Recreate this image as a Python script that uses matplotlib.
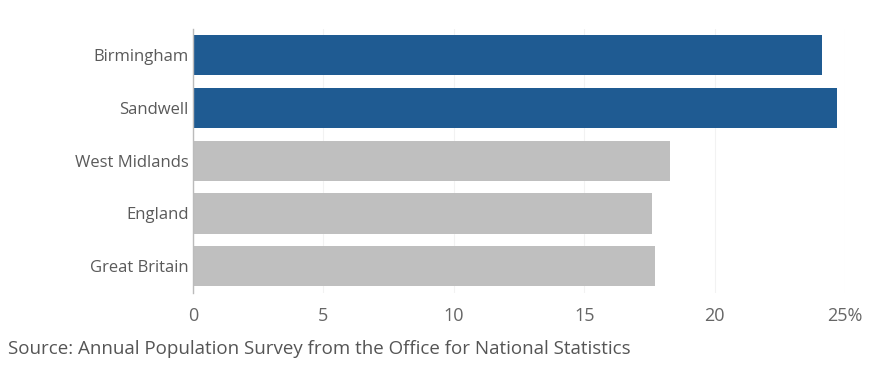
import matplotlib
matplotlib.use('agg')

import matplotlib.pyplot as plt
import numpy as np

# Values (per cent)
areas = ['Birmingham', 'Sandwell', 'West Midlands', 'England', 'Great Britain']
rates = [24.1, 24.7, 18.3, 17.6, 17.7]
highlight = [True, True, False, False, False]
xticks = [0, 5, 10, 15, 20, 25]
xtick_labels = ['0', '5', '10', '15', '20', '25%']

plt.rcParams['font.family'] = ['Open Sans', 'DejaVu Sans']

fig = plt.figure(figsize=(8.77, 3.69), dpi=100)
ax = fig.add_axes([0.22, 0.207, 0.7435, 0.715])

colors = ['#1f5b92' if h else '#bfbfbf' for h in highlight]
ypos = np.arange(len(areas))
ax.barh(ypos, rates, height=0.76, color=colors, zorder=2)

ax.set_ylim(len(areas) - 0.5, -0.5)
ax.set_xlim(0, 25)
ax.set_yticks(ypos)
ax.set_yticklabels(areas)
ax.set_xticks(xticks)
ax.set_xticklabels(xtick_labels)

ax.tick_params(axis='y', length=0, pad=3, labelsize=12, labelcolor='#5a5a5a')
ax.tick_params(axis='x', length=0, pad=10, labelsize=13, labelcolor='#666666')

for side in ['top', 'right', 'bottom']:
    ax.spines[side].set_visible(False)
ax.spines['left'].set_color('#bbbbbb')
ax.spines['left'].set_linewidth(1)

ax.grid(axis='x', color='#f2f2f2', linewidth=0.8, zorder=0)

fig.text(0.009, 0.04, 'Source: Annual Population Survey from the Office for National Statistics',
         fontsize=13.5, color='#555555')

plt.savefig('out.png', dpi=100)
